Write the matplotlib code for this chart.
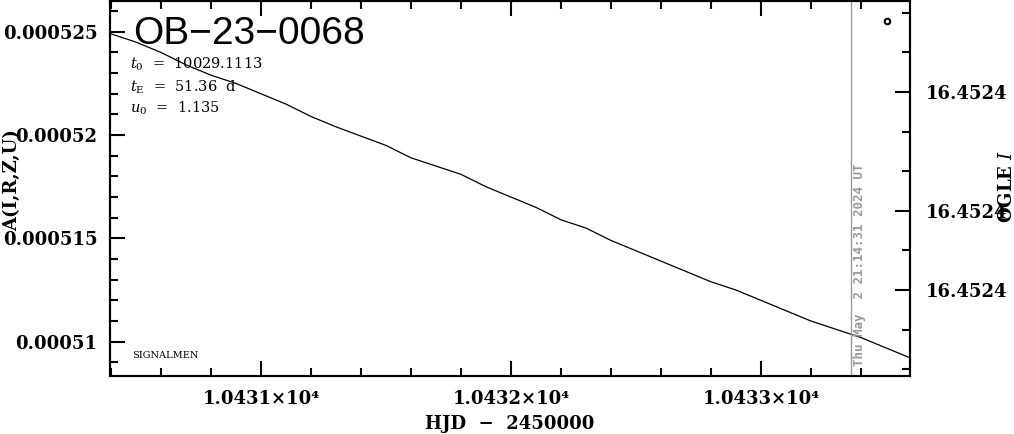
import numpy as np
import matplotlib
matplotlib.use('Agg')
import matplotlib.pyplot as plt
from matplotlib.ticker import MultipleLocator, FuncFormatter, FixedLocator

# data (HJD - 2450000, flux)
hjd = [10430.4, 10430.5, 10430.6, 10430.7, 10430.8, 10430.9, 10431.0, 10431.1,
       10431.2, 10431.3, 10431.4, 10431.5, 10431.6, 10431.7, 10431.8, 10431.9,
       10432.0, 10432.1, 10432.2, 10432.3, 10432.4, 10432.5, 10432.6, 10432.7,
       10432.8, 10432.9, 10433.0, 10433.1, 10433.2, 10433.3, 10433.4, 10433.5,
       10433.6]
flux = [0.0005249, 0.0005245, 0.0005240, 0.0005234, 0.0005229, 0.0005225,
        0.0005220, 0.0005215, 0.0005209, 0.0005204, 0.00051995, 0.0005195,
        0.0005189, 0.0005185, 0.0005181, 0.0005175, 0.0005170, 0.0005165,
        0.0005159, 0.0005155, 0.0005149, 0.0005144, 0.0005139, 0.0005134,
        0.0005129, 0.0005125, 0.0005120, 0.0005115, 0.0005110, 0.0005106,
        0.0005102, 0.0005097, 0.0005092]

# lone point (top right)
pt_x = [10433.504]
pt_y = [0.0005255]

now_hjd = 10433.36
now_label = 'Thu May  2 21:14:31 2024 UT'

event = 'OB\u221223\u22120068'
t0 = '10029.1113'
tE = '51.36'
u0 = '1.135'

# right axis (OGLE I mag), ticks as printed
mag_major = [16.45238, 16.45241, 16.45243]
mag_minor = [16.45236, 16.45237, 16.45239, 16.45240, 16.45242, 16.45244, 16.45245]
mag_lim = (16.4524517, 16.452357)

xlim = (10430.396, 10433.596)
ylim = (0.00050834, 0.00052649)

plt.rcParams['mathtext.fontset'] = 'dejavuserif'
tick_font = dict(family='DejaVu Serif', weight='bold', size=13)

fig = plt.figure(figsize=(10.14, 4.34), dpi=100)
ax = fig.add_axes([110 / 1014, 1 - 376 / 434, 800 / 1014, 375 / 434])

ax.plot(hjd, flux, color='black', lw=0.9)
ax.plot(pt_x, pt_y, 'o', ms=4, mfc='none', mec='black', mew=1.5)
ax.axvline(now_hjd, color='#999999', lw=1.0)
ax.text(now_hjd + 0.032, ylim[0] + 0.0000005, now_label, rotation=90,
        ha='center', va='bottom', color='#999999', family='DejaVu Sans Mono',
        weight='bold', fontsize=9)

ax.set_xlim(*xlim)
ax.set_ylim(*ylim)

ax.xaxis.set_major_locator(MultipleLocator(1))
ax.xaxis.set_minor_locator(MultipleLocator(0.2))
ax.xaxis.set_major_formatter(FuncFormatter(lambda v, p: f'{v / 1e4:.4f}\u00d710\u2074'))
ax.yaxis.set_major_locator(MultipleLocator(5e-6))
ax.yaxis.set_minor_locator(MultipleLocator(1e-6))
ax.yaxis.set_major_formatter(FuncFormatter(lambda v, p: f'{v:g}'))

ax.tick_params(which='both', direction='in', top=True, right=False, width=1.5)
ax.tick_params(which='major', length=11)
ax.tick_params(which='minor', length=6)
ax.tick_params(axis='x', pad=10)
ax.tick_params(axis='y', pad=9)
for lab in ax.get_xticklabels() + ax.get_yticklabels():
    lab.set_fontproperties(matplotlib.font_manager.FontProperties(**tick_font))
for s in ax.spines.values():
    s.set_linewidth(1.5)

ax2 = ax.twinx()
ax2.set_ylim(*mag_lim)
ax2.yaxis.set_major_locator(FixedLocator(mag_major))
ax2.yaxis.set_minor_locator(FixedLocator(mag_minor))
ax2.yaxis.set_major_formatter(FuncFormatter(lambda v, p: f'{v:.4f}'))
ax2.tick_params(which='both', direction='in', width=1.5, pad=11)
ax2.tick_params(which='major', length=11)
ax2.tick_params(which='minor', length=6)
for lab in ax2.get_yticklabels():
    lab.set_fontproperties(matplotlib.font_manager.FontProperties(**tick_font))
for s in ax2.spines.values():
    s.set_linewidth(1.5)

ax.set_xlabel('HJD  \u2212  2450000', fontdict=tick_font, labelpad=5)
fig.text(12 / 1014, 1 - 180 / 434, 'A(I,R,Z,U)', rotation=90, ha='center',
         va='center', **tick_font)
fig.text(1007 / 1014, 1 - 186 / 434, r'OGLE $I$', rotation=90, ha='center',
         va='center', **tick_font)

ax.text(23 / 800, 1 - 33 / 375, event, transform=ax.transAxes, ha='left',
        va='center', family=['Liberation Sans', 'DejaVu Sans'], fontsize=28)
ptxt = dict(transform=ax.transAxes, ha='left', va='center',
            family='DejaVu Serif', fontsize=10.5)
ax.text(20 / 800, 1 - 63 / 375, r'$t_0$  =  ' + t0, **ptxt)
ax.text(20 / 800, 1 - 86 / 375, r'$t_\mathrm{E}$  =  ' + tE + '  d', **ptxt)
ax.text(20 / 800, 1 - 107 / 375, r'$u_0$  =  ' + u0, **ptxt)
ax.text(22 / 800, 1 - 354 / 375, 'SIGNALMEN', transform=ax.transAxes,
        ha='left', va='center', family='DejaVu Serif', fontsize=7)

fig.savefig('out.png', dpi=100)
